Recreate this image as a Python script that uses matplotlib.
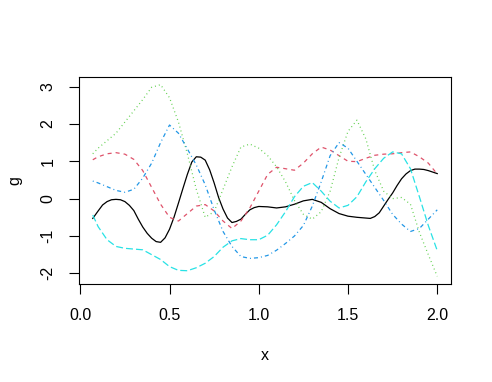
import matplotlib
matplotlib.use("Agg")
import matplotlib.pyplot as plt

plt.rcParams['font.family'] = ['Liberation Sans', 'DejaVu Sans']
plt.rcParams['lines.scale_dashes'] = False

# black curve, read at a finer x spacing
x1 = [0.07, 0.10, 0.125, 0.15, 0.175, 0.20, 0.225, 0.25, 0.275, 0.30,
      0.325, 0.35, 0.375, 0.40, 0.425, 0.45, 0.475, 0.50, 0.525, 0.55,
      0.575, 0.60, 0.625, 0.65, 0.675, 0.70, 0.725, 0.75, 0.775, 0.80,
      0.825, 0.85, 0.875, 0.90, 0.925, 0.95, 0.975, 1.00, 1.05, 1.10,
      1.15, 1.20, 1.25, 1.30, 1.35, 1.40, 1.45, 1.50, 1.55, 1.60,
      1.625, 1.65, 1.675, 1.70, 1.725, 1.75, 1.775, 1.80, 1.825, 1.85,
      1.875, 1.90, 1.925, 1.95, 1.975, 2.00]
g1 = [-0.53, -0.33, -0.17, -0.08, -0.03, -0.02, -0.03, -0.08, -0.18, -0.32,
      -0.55, -0.76, -0.93, -1.06, -1.15, -1.17, -1.05, -0.82, -0.50, -0.12,
      0.27, 0.65, 0.98, 1.12, 1.11, 1.03, 0.77, 0.42, 0.03, -0.28,
      -0.52, -0.64, -0.61, -0.55, -0.42, -0.30, -0.24, -0.21, -0.22, -0.25,
      -0.22, -0.15, -0.06, -0.02, -0.10, -0.27, -0.40, -0.47, -0.50, -0.52,
      -0.53, -0.48, -0.38, -0.20, -0.02, 0.15, 0.35, 0.53, 0.66, 0.75,
      0.79, 0.79, 0.78, 0.75, 0.71, 0.67]

# the other four curves
x = [0.07, 0.10, 0.15, 0.20, 0.25, 0.30, 0.35, 0.40, 0.45, 0.50,
     0.55, 0.60, 0.65, 0.70, 0.75, 0.80, 0.85, 0.90, 0.95, 1.00,
     1.05, 1.10, 1.15, 1.20, 1.25, 1.30, 1.35, 1.40, 1.45, 1.50,
     1.55, 1.60, 1.65, 1.70, 1.75, 1.80, 1.85, 1.90, 1.95, 2.00]

g2 = [1.04, 1.12, 1.20, 1.23, 1.19, 1.05, 0.75, 0.30, -0.15, -0.50,
      -0.60, -0.40, -0.20, -0.16, -0.33, -0.60, -0.80, -0.60, -0.25, 0.20,
      0.65, 0.84, 0.80, 0.76, 0.95, 1.20, 1.38, 1.30, 1.15, 1.00,
      0.99, 1.08, 1.16, 1.19, 1.20, 1.23, 1.25, 1.12, 0.95, 0.66]

g3 = [1.20, 1.35, 1.55, 1.75, 2.05, 2.35, 2.65, 2.98, 3.05, 2.70,
      2.05, 1.20, 0.25, -0.50, -0.35, 0.25, 0.85, 1.38, 1.46, 1.35,
      1.15, 0.85, 0.45, -0.05, -0.42, -0.55, -0.35, 0.20, 1.10, 1.80,
      2.10, 1.60, 0.75, 0.20, 0.00, 0.03, -0.15, -0.90, -1.50, -2.08]

g4 = [0.47, 0.42, 0.32, 0.22, 0.17, 0.25, 0.55, 0.95, 1.50, 1.97,
      1.75, 1.33, 0.90, 0.37, -0.30, -0.88, -1.28, -1.55, -1.60, -1.58,
      -1.52, -1.38, -1.20, -1.00, -0.72, -0.20, 0.45, 1.15, 1.50, 1.35,
      1.00, 0.65, 0.30, -0.05, -0.42, -0.68, -0.88, -0.80, -0.55, -0.30]

g5 = [-0.44, -0.75, -1.10, -1.28, -1.33, -1.35, -1.37, -1.50, -1.63, -1.82,
      -1.92, -1.93, -1.85, -1.73, -1.55, -1.30, -1.13, -1.07, -1.10, -1.10,
      -0.98, -0.70, -0.35, 0.05, 0.33, 0.43, 0.20, -0.07, -0.25, -0.18,
      0.05, 0.45, 0.80, 1.08, 1.25, 1.20, 0.80, 0.05, -0.72, -1.39]

xs = [x1, x, x, x, x]
series = [g1, g2, g3, g4, g5]
colors = ["#000000", "#DF536B", "#61D04F", "#2297E6", "#28E2E5"]
# R lty 1..5 in points (px * 0.72)
dashes = [None, (2.9, 2.9), (0.7, 2.2), (0.7, 2.2, 2.9, 2.2), (5.0, 2.2)]

fig = plt.figure(figsize=(4.92, 3.82), dpi=100)
ax = fig.add_axes([79 / 492, 98 / 382, 372 / 492, 207 / 382])

for xv, ys, c, d in zip(xs, series, colors, dashes):
    line, = ax.plot(xv, ys, color=c, linewidth=0.9)
    if d is not None:
        line.set_dashes(d)

# R style 4% padding
xmin, xmax = min(x), max(x)
allv = g1 + g2 + g3 + g4 + g5
ymin, ymax = min(allv), max(allv)
ax.set_xlim(xmin - 0.04 * (xmax - xmin), xmax + 0.04 * (xmax - xmin))
ax.set_ylim(ymin - 0.04 * (ymax - ymin), ymax + 0.04 * (ymax - ymin))

ax.set_xticks([0.0, 0.5, 1.0, 1.5, 2.0])
ax.set_xticklabels(["0.0", "0.5", "1.0", "1.5", "2.0"])
ax.set_yticks([-2, -1, 0, 1, 2, 3])
ax.set_yticklabels(["-2", "-1", "0", "1", "2", "3"], rotation=90, va="center")

ax.tick_params(direction="out", length=7, width=0.8, labelsize=11.5)
ax.tick_params(axis="x", pad=10)
ax.tick_params(axis="y", pad=10)
for s in ax.spines.values():
    s.set_linewidth(0.8)

ax.set_xlabel("x", fontsize=11.5, labelpad=18)
ax.set_ylabel("g", fontsize=11.5, labelpad=13)

fig.savefig("out.png", dpi=100)
